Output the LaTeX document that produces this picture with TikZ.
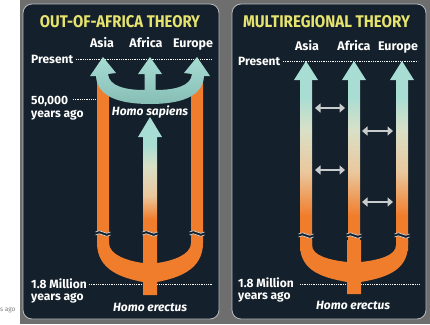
\documentclass[tikz,border=0pt]{standalone}
\usepackage{fontspec}
\usepackage{graphicx}
\usetikzlibrary{arrows.meta}
\newfontfamily\lblfont{Fira Sans}
\definecolor{navy}{HTML}{14202B}
\definecolor{framec}{HTML}{6E6E6E}
\definecolor{borderc}{HTML}{B8BCC0}
\definecolor{tealc}{HTML}{A7DDD3}
\definecolor{tealdark}{HTML}{86BDB5}
\definecolor{palec}{HTML}{D9E0C8}
\definecolor{beigec}{HTML}{EAC79C}
\definecolor{orangec}{HTML}{F07D2C}
\definecolor{titley}{HTML}{E6E36E}
\definecolor{dblgray}{HTML}{C9CCCC}
\definecolor{wavec}{HTML}{D4D4D4}
\pgfdeclareverticalshading{rbar}{100bp}{color(0bp)=(orangec); color(35bp)=(orangec); color(47.7bp)=(beigec); color(59.9bp)=(palec); color(70bp)=(tealc); color(100bp)=(tealc)}
\pgfdeclareverticalshading{lshaft}{100bp}{color(0bp)=(orangec); color(43.3bp)=(orangec); color(52.1bp)=(beigec); color(63.5bp)=(palec); color(71.2bp)=(tealc); color(100bp)=(tealc)}
\tikzset{
  lbl/.style={font=\lblfont\bfseries\fontsize{12pt}{14pt}\selectfont, text=white, inner sep=0pt},
  region/.style={font=\lblfont\bfseries\fontsize{12.5pt}{14pt}\selectfont, text=white, inner sep=0pt, anchor=base},
  species/.style={font=\lblfont\bfseries\itshape\fontsize{12pt}{14pt}\selectfont, text=white, inner sep=0pt, anchor=base},
  titlelbl/.style={text=titley, inner sep=0pt, anchor=base},
  dotline/.style={white, line width=0.8pt, dash pattern=on 0.9pt off 0.9pt},
  panel/.style={fill=navy, draw=borderc, line width=0.8pt, rounded corners=9pt},
  dblarrow/.style={dblgray, line width=2.8pt, {Triangle[length=5.5pt,width=9pt]}-{Triangle[length=5.5pt,width=9pt]}},
  wavebreak/.pic={
    \draw[navy, line width=3pt] (-7.5,1.5) sin (-3.75,0.2) cos (0,1.5) sin (3.75,2.8) cos (7.5,1.5);
    \draw[wavec, line width=0.7pt] (-7.5,0) sin (-3.75,-1.3) cos (0,0) sin (3.75,1.3) cos (7.5,0);
    \draw[wavec, line width=0.7pt] (-7.5,3) sin (-3.75,1.7) cos (0,3) sin (3.75,4.3) cos (7.5,3);
  }
}
\begin{document}
\begin{tikzpicture}[x=1pt,y=-1pt]
\useasboundingbox (0,0) rectangle (430,324);
\fill[white] (0,0) rectangle (430,324);
\fill[framec] (20,0) rectangle (430,324);
\node[anchor=base west, inner sep=0pt, font=\lblfont\fontsize{6.5pt}{7pt}\selectfont, text=gray] (sago) at (0,311) {s ago};

% panels
\draw[panel] (23,4) rectangle (219,319);
\draw[panel] (232,4) rectangle (426,319);

% ---------- LEFT PANEL ----------
\node[titlelbl] (t1) at (120,27) {\resizebox{160pt}{12pt}{\lblfont\bfseries OUT-OF-AFRICA THEORY}};
\node[region] (asia1) at (102,47) {Asia};
\node[region] (africa1) at (146,47) {Africa};
\node[region] (europe1) at (193,47) {Europe};
\node[lbl, anchor=base west] (present1) at (31,63) {Present};
\node[lbl, anchor=base west] (fifty) at (31,104) {50,000};
\node[lbl, anchor=base west] (ya1) at (31,117) {years ago};
\node[lbl, anchor=base west] (mil1) at (31,288) {1.8 Million};
\node[lbl, anchor=base west] (ya2) at (31,300) {years ago};

\coordinate (p1a) at (76,59);  \coordinate (p1b) at (212,59);
\coordinate (f1a) at (73,99);  \coordinate (f1b) at (96,99);
\coordinate (m1a) at (89,284); \coordinate (m1b) at (212,284);
\draw[dotline] (p1a) -- (p1b);
\draw[dotline] (f1a) -- (f1b);
\draw[dotline] (m1a) -- (m1b);

% orange trident (left)
\fill[orangec] (97,83) -- (97,243) .. controls (97,270) and (122,278) .. (143,282) -- (143,295) -- (157,295) -- (157,282) .. controls (178,278) and (203,270) .. (203,243) -- (203,83) -- (191,83) -- (191,243) .. controls (191,255) and (172,261) .. (157,263) -- (143,263) .. controls (128,261) and (109,255) .. (109,243) -- (109,83) -- cycle;
% central gradient shaft
\shade[shading=lshaft] (143,135) rectangle (157,268);
\fill[tealc] (138,137) -- (150,117) -- (162,137) -- cycle;

% Homo sapiens trident
\shade[top color=tealc, bottom color=tealdark]
  (150,104) .. controls (120,104) and (97,97) .. (96,76)
  -- (90,76) -- (103,57) -- (116,73) -- (108,74)
  .. controls (109,86) and (125,90) .. (144.5,90)
  -- (144.5,74) -- (138,74) -- (150,57) -- (162,74) -- (155.5,74) -- (155.5,90)
  .. controls (175,90) and (191,86) .. (192,74)
  -- (184,73) -- (197,57) -- (210,76) -- (204,76)
  .. controls (203,97) and (180,104) .. (150,104) -- cycle;

\pic at (103,232) {wavebreak};
\pic at (150,232) {wavebreak};
\pic at (197,232) {wavebreak};

\node[species] (hs) at (150,115) {Homo sapiens};
\node[species] (he1) at (150,311) {Homo erectus};

% ---------- RIGHT PANEL ----------
\node[titlelbl] (t2) at (326.5,27) {\resizebox{167pt}{12pt}{\lblfont\bfseries MULTIREGIONAL THEORY}};
\node[region] (asia2) at (307,50) {Asia};
\node[region] (africa2) at (354,50) {Africa};
\node[region] (europe2) at (398,50) {Europe};
\node[lbl, anchor=base west] (present2) at (238,65) {Present};
\node[lbl, anchor=base west] (mil2) at (238,287) {1.8 Million};
\node[lbl, anchor=base west] (ya3) at (238,299) {years ago};

\coordinate (p2a) at (283,61); \coordinate (p2b) at (418,61);
\coordinate (m2a) at (300,284); \coordinate (m2b) at (420,284);
\draw[dotline] (p2a) -- (p2b);
\draw[dotline] (m2a) -- (m2b);

% orange trident (right)
\fill[orangec] (300,240) -- (300,245) .. controls (300,272) and (325,278) .. (347,282) -- (347,294) -- (361,294) -- (361,282) .. controls (383,278) and (408,272) .. (408,245) -- (408,240) -- (396,240) -- (396,245) .. controls (396,256) and (378,260) .. (361,262) -- (361,240) -- (347,240) -- (347,262) .. controls (330,260) and (312,256) .. (312,245) -- (312,240) -- cycle;
% gradient bars
\shade[shading=rbar] (300,78) rectangle (312,250);
\shade[shading=rbar] (348,78) rectangle (360,250);
\shade[shading=rbar] (396,78) rectangle (408,250);
\fill[tealc] (294,80) -- (306,61) -- (318,80) -- cycle;
\fill[tealc] (342,80) -- (354,61) -- (366,80) -- cycle;
\fill[tealc] (390,80) -- (402,61) -- (414,80) -- cycle;

\pic at (306,234) {wavebreak};
\pic at (354,234) {wavebreak};
\pic at (402,234) {wavebreak};

% gene flow arrows
\coordinate (g1a) at (315,108); \coordinate (g1b) at (345,108);
\coordinate (g2a) at (362,131); \coordinate (g2b) at (393,131);
\coordinate (g3a) at (315,170); \coordinate (g3b) at (345,170);
\coordinate (g4a) at (362,202); \coordinate (g4b) at (393,202);
\draw[dblarrow] (g1a) -- (g1b);
\draw[dblarrow] (g2a) -- (g2b);
\draw[dblarrow] (g3a) -- (g3b);
\draw[dblarrow] (g4a) -- (g4b);

\node[species] (he2) at (353,309) {Homo erectus};
\end{tikzpicture}
\end{document}
